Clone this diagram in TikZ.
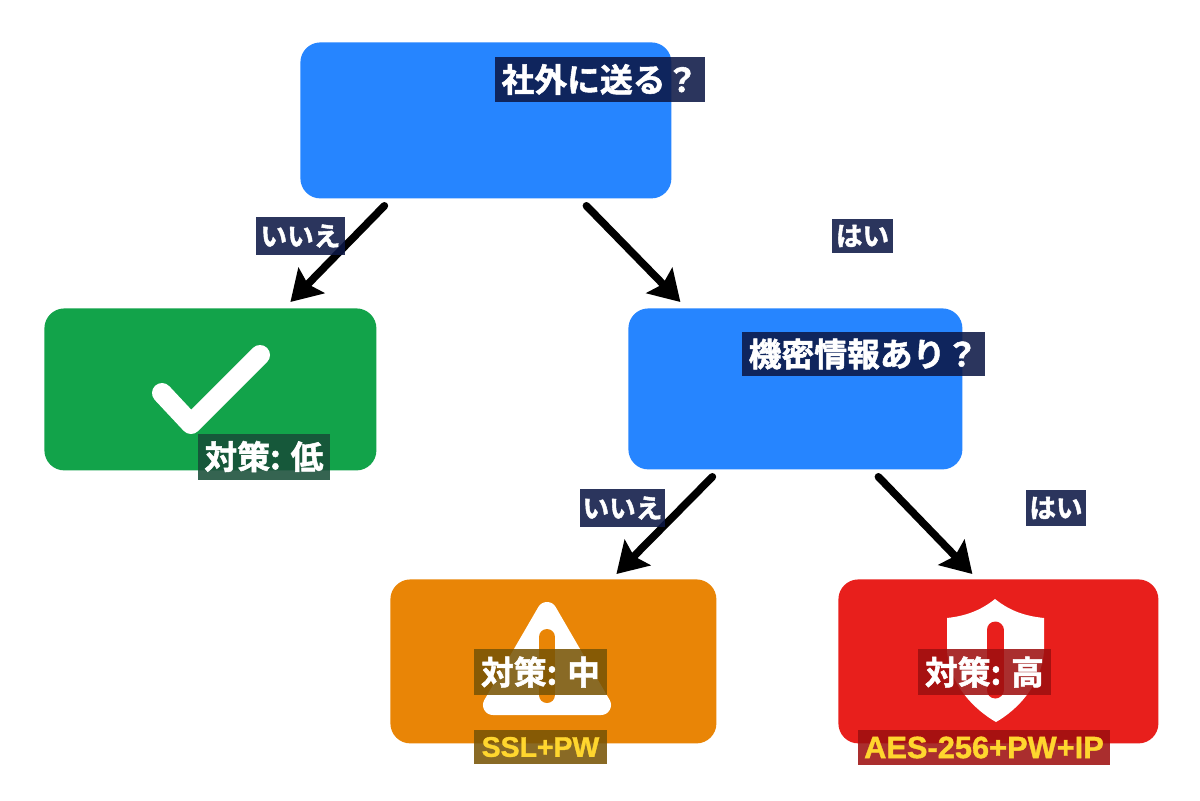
\documentclass[tikz,border=0pt]{standalone}
\usepackage{fontspec}
\setmainfont{Liberation Sans}
\newfontfamily\jpfont{Noto Sans CJK JP}[BoldFont={Noto Sans CJK JP Bold},BoldFeatures={FakeBold=1.6}]
\newfontfamily\subfont{Liberation Sans}[BoldFeatures={FakeBold=1.2}]
\usetikzlibrary{arrows.meta,calc}
\definecolor{cblue}{HTML}{2685FF}
\definecolor{cgreen}{HTML}{12A34A}
\definecolor{corange}{HTML}{E98506}
\definecolor{cred}{HTML}{E81F1C}
\definecolor{cyellow}{HTML}{FFD62E}
\definecolor{lnavy}{HTML}{0C1745}
\definecolor{lgreen}{HTML}{174D38}
\definecolor{lorange}{HTML}{785405}
\definecolor{lred}{HTML}{9E1010}
\tikzset{
  x=0.5pt,y=-0.5pt,
  box/.style={anchor=north west,inner sep=0pt,rounded corners=10pt,draw=none},
  lbl/.style={anchor=center,inner sep=0pt,fill opacity=.87,text opacity=1,text=white,font=\jpfont\bfseries},
  big/.style={lbl,font=\jpfont\bfseries\fontsize{16.4}{16.4}\selectfont},
  small/.style={lbl,font=\jpfont\bfseries\fontsize{13.3}{13.3}\selectfont},
  sub/.style={lbl,text=cyellow,font=\subfont\bfseries\fontsize{14.2}{14.2}\selectfont},
  subwide/.style={lbl,text=cyellow,font=\subfont\bfseries\fontsize{15.4}{15.4}\selectfont},
  flow/.style={line width=3.8pt,line cap=round,-{Stealth[length=15pt,width=18pt,inset=2.5pt]}},
}
\newcommand{\boxnode}[6]{\node[box,fill=#2,minimum width=#5*0.5pt,minimum height=#6*0.5pt] (#1) at (#3,#4) {};}
\newcommand{\lab}[8]{\node[#2,fill=#3,minimum width=#6*0.5pt,minimum height=#7*0.5pt] (#1) at (#4,#5) {#8};}
\begin{document}
\begin{tikzpicture}
\useasboundingbox[fill=white] (0,0) rectangle (1200,800);
\boxnode{q1}{cblue}{300}{42}{371}{156}
\boxnode{low}{cgreen}{44}{308}{332}{162}
\boxnode{q2}{cblue}{628}{308}{334}{161}
\boxnode{mid}{corange}{390}{579}{326}{164}
\boxnode{high}{cred}{838}{579}{320}{164}
% connectors
\draw[flow] ($(q1.south)+(-101.5,7)$) -- ($(low.north)+(80,-6)$);
\draw[flow] ($(q1.south)+(100.5,7)$) -- ($(q2.north)+(-115,-6)$);
\draw[flow] ($(q2.south)+(-83,7)$) -- ($(mid.north)+(63,-5)$);
\draw[flow] ($(q2.south)+(83,7)$) -- ($(high.north)+(-26,-5)$);
% icons
\draw[white,line width=10pt,line cap=round,line join=round] (162,393) -- (191,424) -- (260,355);
\draw[white,fill=white,line width=10pt,line join=round] (547,612) -- (601,705) -- (493,705) -- cycle;
\draw[corange,line width=8pt,line cap=round] (547,637) -- (547,695);
\fill[white] (995,599) .. controls (980,611) and (965,616) .. (947,618) -- (947,650) .. controls (949,685) and (975,710) .. (996,722) .. controls (1017,710) and (1042,685) .. (1044,650) -- (1044,618) .. controls (1025,616) and (1010,611) .. (995,599) -- cycle;
\draw[cred,line width=8.5pt,line cap=round] (995,630) -- (995,690);
% labels
\lab{t1}{big}{lnavy}{600}{79.5}{210}{45}{社外に送る？}
\lab{a1}{small}{lnavy}{300.5}{236}{89}{38}{いいえ}
\lab{a2}{small}{lnavy}{862.5}{236}{61}{34}{はい}
\lab{t2}{big}{lnavy}{863.5}{354}{243}{44}{機密情報あり？}
\lab{t3}{big}{lgreen}{264}{456.5}{132}{46}{対策: 低}
\lab{a3}{small}{lnavy}{622.5}{508}{85}{38}{いいえ}
\lab{a4}{small}{lnavy}{1056}{508}{60}{36}{はい}
\lab{t4}{big}{lorange}{540.5}{672}{133}{46}{対策: 中}
\lab{s4}{sub}{lorange}{540.5}{747}{133}{34}{SSL+PW}
\lab{t5}{big}{lred}{984.5}{672}{133}{46}{対策: 高}
\lab{s5}{subwide}{lred}{984}{747.5}{252}{35}{AES-256+PW+IP}
\end{tikzpicture}
\end{document}
